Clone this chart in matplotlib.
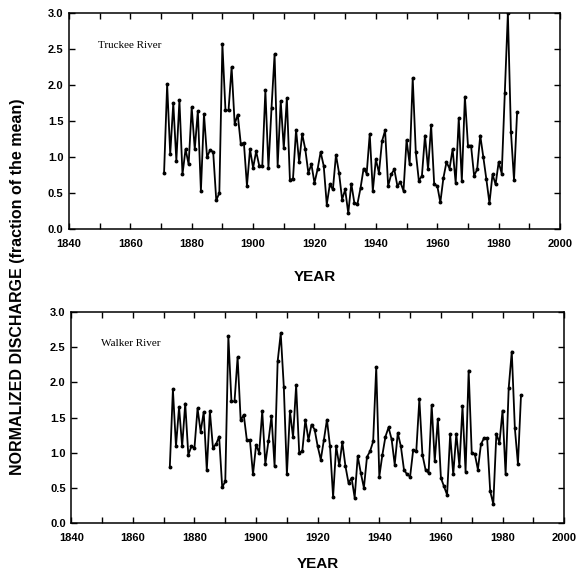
import matplotlib
matplotlib.use('Agg')
import matplotlib.pyplot as plt
from matplotlib.ticker import MultipleLocator
import numpy as np

# Truckee River, normalized discharge, 1871-1986
truckee_start = 1871
truckee = [0.78, 2.01, 1.04, 1.75, 0.95, 1.79, 0.76, 1.11, 0.90, 1.69,
           1.11, 1.64, 0.53, 1.60, 1.00, 1.10, 1.07, 0.40, 0.50, 2.57,
           1.65, 1.65, 2.25, 1.46, 1.59, 1.18, 1.20, 0.60, 1.11, 0.85,
           1.08, 0.88, 0.88, 1.93, 0.85, 1.68, 2.43, 0.88, 1.78, 1.12,
           1.82, 0.68, 0.70, 1.38, 0.93, 1.32, 1.11, 0.78, 0.90, 0.64,
           0.83, 1.07, 0.88, 0.34, 0.62, 0.55, 1.03, 0.78, 0.41, 0.55,
           0.22, 0.63, 0.36, 0.35, 0.57, 0.84, 0.77, 1.32, 0.53, 0.97,
           0.78, 1.22, 1.37, 0.60, 0.76, 0.83, 0.60, 0.65, 0.53, 1.24,
           0.90, 2.10, 1.07, 0.67, 0.74, 1.30, 0.83, 1.44, 0.62, 0.60,
           0.37, 0.71, 0.93, 0.84, 1.11, 0.64, 1.54, 0.67, 1.84, 1.16,
           1.16, 0.74, 0.83, 1.30, 1.00, 0.69, 0.36, 0.76, 0.62, 0.93,
           0.77, 1.89, 3.00, 1.35, 0.68, 1.62]

# Walker River, normalized discharge, 1872-1986
walker_start = 1872
walker = [0.80, 1.90, 1.09, 1.65, 1.09, 1.70, 0.97, 1.09, 1.07, 1.63,
          1.30, 1.58, 0.75, 1.59, 1.07, 1.12, 1.23, 0.51, 0.59, 2.66,
          1.73, 1.73, 2.36, 1.46, 1.54, 1.18, 1.18, 0.69, 1.11, 1.00,
          1.59, 0.84, 1.16, 1.52, 0.81, 2.30, 2.70, 1.94, 0.69, 1.59,
          1.22, 1.96, 1.00, 1.02, 1.47, 1.18, 1.40, 1.33, 1.09, 0.90,
          1.18, 1.47, 1.09, 0.37, 1.09, 0.82, 1.15, 0.81, 0.57, 0.64,
          0.36, 0.95, 0.71, 0.50, 0.94, 1.02, 1.16, 2.22, 0.66, 0.97,
          1.23, 1.36, 1.19, 0.83, 1.28, 1.09, 0.76, 0.69, 0.66, 1.04,
          1.02, 1.76, 0.97, 0.76, 0.71, 1.68, 0.88, 1.48, 0.64, 0.52,
          0.40, 1.26, 0.69, 1.27, 0.81, 1.66, 0.73, 2.17, 1.00, 0.98,
          0.76, 1.12, 1.21, 1.21, 0.45, 0.27, 1.27, 1.14, 1.60, 0.69,
          1.92, 2.44, 1.35, 0.84, 1.82]

rivers = ['Truckee River', 'Walker River']
year_ticks = list(range(1840, 2001, 20))
value_ticks = [0.0, 0.5, 1.0, 1.5, 2.0, 2.5, 3.0]

fig = plt.figure(figsize=(5.84, 5.74), dpi=100)

# Axes positions (figure fractions)
ax1 = fig.add_axes([0.118, 0.601, 0.841, 0.376])
ax2 = fig.add_axes([0.122, 0.089, 0.844, 0.367])

series = [(ax1, truckee_start, truckee, rivers[0], 15),
          (ax2, walker_start, walker, rivers[1], 10)]

for ax, start, vals, name, lpad in series:
    yrs = np.arange(start, start + len(vals))
    ax.plot(yrs, vals, color='black', lw=1.3, marker='o', ms=1.8)

    ax.set_xlim(1840, 2000)
    ax.set_ylim(0, 3)
    ax.set_xticks(year_ticks)
    ax.set_yticks(value_ticks)
    ax.set_yticklabels(['%.1f' % v for v in value_ticks])
    ax.xaxis.set_minor_locator(MultipleLocator(10))

# Ticks inward on all four sides
    ax.tick_params(which='both', direction='in', top=True, right=True,
                   length=4, width=1)
    ax.tick_params(axis='x', pad=7)
    ax.tick_params(axis='y', pad=4)
    for lab in ax.get_xticklabels() + ax.get_yticklabels():
        lab.set_family('Liberation Sans')
        lab.set_fontweight('bold')
        lab.set_fontsize(8)
    for sp in ax.spines.values():
        sp.set_linewidth(1.1)

    ax.text(0.06, 0.85, name, transform=ax.transAxes, fontsize=8,
            family='Liberation Serif', va='center')
    ax.set_xlabel('YEAR', family='Liberation Sans', fontweight='bold',
                  fontsize=11, labelpad=lpad)

fig.text(0.03, 0.5, 'NORMALIZED DISCHARGE (fraction of the mean)',
         rotation=90, va='center', ha='center', family='Liberation Sans',
         fontweight='bold', fontsize=11.5)

fig.savefig('out.png', dpi=100)
